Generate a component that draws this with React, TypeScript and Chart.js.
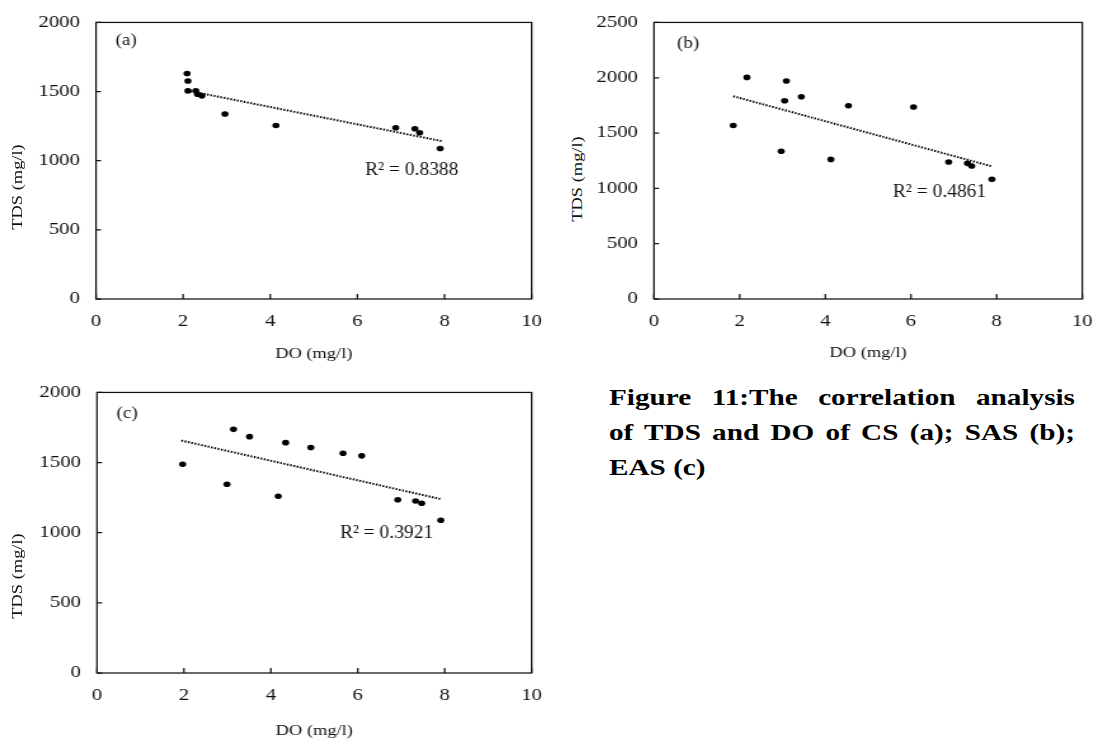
import React, { useEffect, useRef } from "react";
import { Chart, registerables } from "chart.js";

Chart.register(...registerables);

// ---------- data ----------
const doA = [2.09, 2.11, 2.11, 2.29, 2.33, 2.43, 2.96, 4.13, 6.88, 7.32, 7.43, 7.9];
const tdsA = [1631, 1576, 1505, 1505, 1481, 1469, 1338, 1255, 1238, 1231, 1202, 1088];
const trendDoA = [2.09, 7.95];
const trendTdsA = [1508, 1141];

const doB = [1.85, 2.17, 2.97, 3.05, 3.09, 3.44, 4.13, 4.54, 6.06, 6.88, 7.32, 7.42, 7.89];
const tdsB = [1569, 2003, 1336, 1792, 1970, 1828, 1262, 1747, 1735, 1238, 1226, 1202, 1083];
const trendDoB = [1.85, 7.89];
const trendTdsB = [1833, 1199];

const doC = [1.97, 2.99, 3.14, 3.51, 4.17, 4.34, 4.92, 5.66, 6.09, 6.92, 7.33, 7.47, 7.91];
const tdsC = [1488, 1345, 1737, 1685, 1260, 1642, 1607, 1566, 1548, 1235, 1226, 1210, 1089];
const trendDoC = [1.94, 7.91];
const trendTdsC = [1657, 1240];

const r2Labels = ["R² = 0.8388", "R² = 0.4861", "R² = 0.3921"];
const panelTags = ["(a)", "(b)", "(c)"];
const yMaxes = [2000, 2500, 2000];
const xTitle = "DO (mg/l)";
const yTitle = "TDS (mg/l)";
const captionLines = [
  "Figure 11:The correlation analysis",
  "of TDS and DO of CS (a); SAS (b);",
  "EAS (c)",
];

// anchors of the in-plot texts, in data units (DO, TDS)
const r2AnchorDo = [6.18, 5.58, 5.59];
const r2AnchorTds = [936, 964, 1000];
const tagAnchorDo = [0.45, 0.54, 0.45];
const tagAnchorTds = [1871, 2304, 1849];

// ---------- style / layout ----------
const S = 1.27; // horizontal glyph stretch of the source figure
const FONT = "'Liberation Serif', 'Times New Roman', serif";
const INK = "#111";

type Layout = {
  boxLeft: number;
  boxTop: number;
  w: number; // internal canvas width
  h: number;
  plotL: number; // final page px
  plotT: number;
  plotR: number;
  plotB: number;
  titleOff: number; // x title centre below axis (final px)
  yTitleX: number;
  yTitleY: number;
};

const layouts: Layout[] = [
  { boxLeft: 0, boxTop: 0, w: 440, h: 368, plotL: 96, plotT: 19, plotR: 538, plotB: 299, titleOff: 55, yTitleX: 18, yTitleY: 187 },
  { boxLeft: 590, boxTop: 0, w: 409, h: 368, plotL: 654, plotT: 19, plotR: 1097, plotB: 299, titleOff: 54, yTitleX: 578, yTitleY: 179 },
  { boxLeft: 0, boxTop: 370, w: 440, h: 373, plotL: 97, plotT: 381, plotR: 539, plotB: 673, titleOff: 58, yTitleX: 18, yTitleY: 576 },
];

const seriesDo = [doA, doB, doC];
const seriesTds = [tdsA, tdsB, tdsC];
const trendDo = [trendDoA, trendDoB, trendDoC];
const trendTds = [trendTdsA, trendTdsB, trendTdsC];

const TICK_SIZE = 16.4;
const TITLE_SIZE = 14.5;

function drawText(ctx: CanvasRenderingContext2D, text: string, px: number, py: number, size: number, sx: number) {
  ctx.save();
  ctx.translate(px, py);
  ctx.scale(sx, 1);
  ctx.font = `${size}px ${FONT}`;
  ctx.fillStyle = INK;
  ctx.textAlign = "left";
  ctx.textBaseline = "middle";
  ctx.fillText(text, 0, 0);
  ctx.restore();
}

const framePlugin = {
  id: "frame",
  afterDraw(chart: any, _args: any, opts: any) {
    const { ctx, chartArea, scales } = chart;
    const { left, top, right, bottom } = chartArea;
    const x = scales.x;
    const y = scales.y;
    ctx.save();
    ctx.strokeStyle = INK;
    ctx.lineWidth = 1.25;
    ctx.strokeRect(left, top, right - left, bottom - top);
    ctx.beginPath();
    y.ticks.forEach((t: any) => {
      const py = y.getPixelForValue(t.value);
      ctx.moveTo(left, py);
      ctx.lineTo(left + 5 / S, py);
    });
    x.ticks.forEach((t: any) => {
      const px = x.getPixelForValue(t.value);
      ctx.moveTo(px, bottom);
      ctx.lineTo(px, bottom - 5);
    });
    ctx.stroke();
    ctx.restore();
    drawText(ctx, opts.r2, x.getPixelForValue(opts.r2Do), y.getPixelForValue(opts.r2Tds), 19.5, 1 / S);
    drawText(ctx, opts.tag, x.getPixelForValue(opts.tagDo), y.getPixelForValue(opts.tagTds), 16.5, 1.15 / S);
  },
};

const plainNumber = (v: any) => String(v);

function Panel({ i }: { i: number }) {
  const ref = useRef<HTMLCanvasElement>(null);
  const L = layouts[i];
  useEffect(() => {
    const plotLi = (L.plotL - L.boxLeft) / S;
    const plotRi = (L.plotR - L.boxLeft) / S;
    const padTop = L.plotT - L.boxTop;
    const xAxisH = L.titleOff + (TITLE_SIZE * 1.2) / 2;
    const padBottom = L.h - (L.plotB - L.boxTop) - xAxisH;
    const points = seriesDo[i].map((d, k) => ({ x: d, y: seriesTds[i][k] }));
    const trend = trendDo[i].map((d, k) => ({ x: d, y: trendTds[i][k] }));
    const chart = new Chart(ref.current as HTMLCanvasElement, {
      type: "scatter",
      data: {
        datasets: [
          {
            data: trend,
            showLine: true,
            pointRadius: 0,
            borderColor: "#000",
            borderWidth: 2,
            borderDash: [1.4, 1.3],
            borderCapStyle: "butt",
            fill: false,
          } as any,
          {
            data: points,
            pointRadius: 2.8,
            pointHoverRadius: 2.8,
            pointBackgroundColor: "#000",
            pointBorderWidth: 0,
            borderColor: "#000",
            showLine: false,
          } as any,
        ],
      },
      options: {
        responsive: false,
        animation: false,
        events: [],
        layout: { padding: { left: 0, top: padTop, right: L.w - plotRi, bottom: Math.max(padBottom, 0) } },
        plugins: {
          legend: { display: false },
          tooltip: { enabled: false },
          frame: {
            r2: r2Labels[i],
            r2Do: r2AnchorDo[i],
            r2Tds: r2AnchorTds[i],
            tag: panelTags[i],
            tagDo: tagAnchorDo[i],
            tagTds: tagAnchorTds[i],
          },
        } as any,
        scales: {
          x: {
            type: "linear",
            min: 0,
            max: 10,
            ticks: { stepSize: 2, padding: 13.2, color: INK, font: { family: FONT, size: TICK_SIZE }, maxRotation: 0, callback: plainNumber },
            grid: { display: false, drawTicks: false },
            border: { display: false },
            title: { display: true, text: xTitle, color: INK, font: { family: FONT, size: TITLE_SIZE, lineHeight: 1.2 }, padding: 0 },
            afterFit: (s: any) => {
              s.height = xAxisH;
            },
          },
          y: {
            type: "linear",
            min: 0,
            max: yMaxes[i],
            ticks: { stepSize: 500, padding: 16 / S, color: INK, font: { family: FONT, size: TICK_SIZE }, callback: plainNumber },
            grid: { display: false, drawTicks: false },
            border: { display: false },
            afterFit: (s: any) => {
              s.width = plotLi;
            },
          },
        },
      } as any,
      plugins: [framePlugin],
    });
    return () => chart.destroy();
  }, []);
  return (
    <div
      style={{
        position: "absolute",
        left: L.boxLeft,
        top: L.boxTop,
        width: L.w,
        height: L.h,
        transform: `scaleX(${S})`,
        transformOrigin: "0 0",
      }}
    >
      <canvas ref={ref} width={L.w} height={L.h} style={{ display: "block", width: L.w, height: L.h }} />
    </div>
  );
}

export default function App() {
  return (
    <div style={{ position: "absolute", left: 0, top: 0, width: 1110, height: 743, background: "#fff", overflow: "hidden" }}>
      {layouts.map((L, i) => (
        <Panel key={i} i={i} />
      ))}
      {layouts.map((L, i) => (
        <div
          key={"yt" + i}
          style={{
            position: "absolute",
            left: L.yTitleX,
            top: L.yTitleY,
            transform: `translate(-50%, -50%) rotate(-90deg) scaleX(${S})`,
            fontFamily: FONT,
            fontSize: TITLE_SIZE,
            lineHeight: 1.2,
            whiteSpace: "nowrap",
            color: INK,
          }}
        >
          {yTitle}
        </div>
      ))}
      <div
        style={{
          position: "absolute",
          left: 609,
          top: 380,
          width: 466 / S,
          transform: `scaleX(${S})`,
          transformOrigin: "0 0",
          fontFamily: FONT,
          fontWeight: "bold",
          fontSize: 23,
          lineHeight: "35px",
          color: "#000",
        }}
      >
        <div style={{ textAlign: "justify", textAlignLast: "justify", whiteSpace: "nowrap" } as any}>{captionLines[0]}</div>
        <div style={{ textAlign: "justify", textAlignLast: "justify", whiteSpace: "nowrap" } as any}>{captionLines[1]}</div>
        <div style={{ whiteSpace: "nowrap" }}>{captionLines[2]}</div>
      </div>
    </div>
  );
}
